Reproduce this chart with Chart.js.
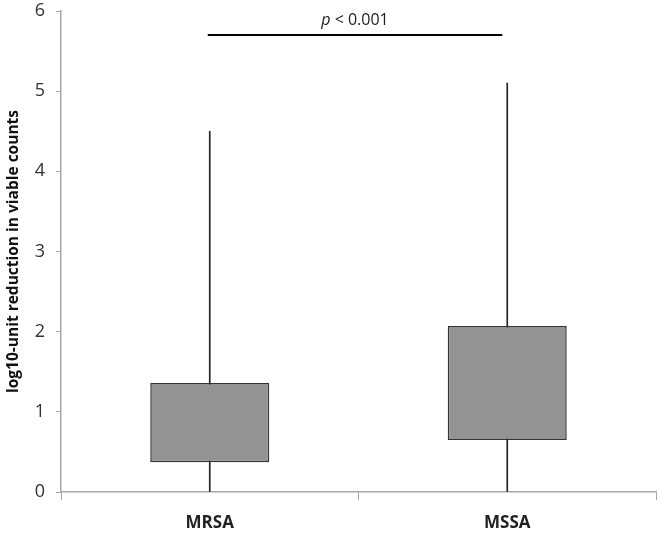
<!DOCTYPE html>
<html>
<head>
<meta charset="utf-8">
<script src="https://cdn.jsdelivr.net/npm/chart.js@4/dist/chart.umd.min.js"></script>
<style>
  html, body { margin: 0; padding: 0; background: #fff; }
  #wrap { width: 660px; height: 537px; position: relative; }
</style>
</head>
<body>
<div id="wrap"><canvas id="boxChart"></canvas></div>
<script>
// Box plot data
const groups = ['MRSA', 'MSSA'];
const q1 = [0.37, 0.65];
const q3 = [1.36, 2.07];
const whiskerMin = [0, 0];
const whiskerMax = [4.5, 5.1];
const yTicks = [0, 1, 2, 3, 4, 5, 6];
const sigLevel = 5.7;
const sigLabel = 'p < 0.001';

const FONT = "'Open Sans', 'Liberation Sans', sans-serif";

// significance bracket drawn from the scales
const sigPlugin = {
  id: 'sig',
  afterDatasetsDraw(chart) {
    const { ctx, scales: { x, y } } = chart;
    const x0 = x.getPixelForValue(0) - 2;
    const x1 = x.getPixelForValue(1) - 5;
    const py = y.getPixelForValue(sigLevel);
    ctx.save();
    ctx.strokeStyle = '#000';
    ctx.lineWidth = 2;
    ctx.beginPath();
    ctx.moveTo(x0, py);
    ctx.lineTo(x1, py);
    ctx.stroke();
    ctx.fillStyle = '#222';
    ctx.textBaseline = 'bottom';
    ctx.textAlign = 'left';
    const parts = sigLabel.split(' ');
    const first = parts[0];
    const rest = ' ' + parts.slice(1).join(' ');
    ctx.font = 'italic 16px ' + FONT;
    const w1 = ctx.measureText(first).width;
    ctx.font = '16px ' + FONT;
    const w2 = ctx.measureText(rest).width;
    const start = (x0 + x1) / 2 - (w1 + w2) / 2;
    ctx.font = 'italic 16px ' + FONT;
    ctx.fillText(first, start, py - 7);
    ctx.font = '16px ' + FONT;
    ctx.fillText(rest, start + w1, py - 7);
    ctx.restore();
  }
};

new Chart(document.getElementById('boxChart').getContext('2d'), {
  type: 'bar',
  data: {
    labels: groups,
    datasets: [
      {
        label: 'IQR',
        data: groups.map((g, i) => [q1[i], q3[i]]),
        backgroundColor: '#939393',
        borderColor: '#333',
        borderWidth: 1.5,
        borderSkipped: false,
        categoryPercentage: 1,
        barPercentage: 0.4,
        grouped: false,
        order: 1
      },
      {
        label: 'Range',
        data: groups.map((g, i) => [whiskerMin[i], whiskerMax[i]]),
        backgroundColor: '#222',
        barThickness: 1,
        grouped: false,
        order: 2
      }
    ]
  },
  options: {
    responsive: true,
    maintainAspectRatio: false,
    animation: false,
    layout: { padding: { top: 11, right: 4, left: 0, bottom: 0 } },
    plugins: { legend: { display: false }, tooltip: { enabled: false } },
    scales: {
      x: {
        offset: true,
        grid: { offset: true, drawOnChartArea: false, tickLength: 8, color: '#a6a6a6' },
        border: { color: '#a6a6a6', width: 1.5 },
        ticks: { color: '#222', font: { family: FONT, size: 17, weight: 'bold' }, padding: 13 },
        afterFit(s) { s.height = 45; s.paddingLeft = 0; s.paddingRight = 0; }
      },
      y: {
        min: 0,
        max: 6,
        afterBuildTicks(s) { s.ticks = yTicks.map(v => ({ value: v })); },
        grid: { drawOnChartArea: false, tickLength: 5, color: '#a6a6a6' },
        border: { color: '#a6a6a6', width: 1.5 },
        ticks: { color: '#333', font: { family: FONT, size: 18 }, padding: 11 },
        title: {
          display: true,
          text: 'log10-unit reduction in viable counts',
          color: '#111',
          font: { family: FONT, size: 15.5, weight: 'bold' },
          padding: { top: 4, bottom: 4 }
        },
        afterFit(s) { s.width = 61; s.paddingTop = 0; s.paddingBottom = 0; }
      }
    }
  },
  plugins: [sigPlugin]
});
</script>
</body>
</html>
